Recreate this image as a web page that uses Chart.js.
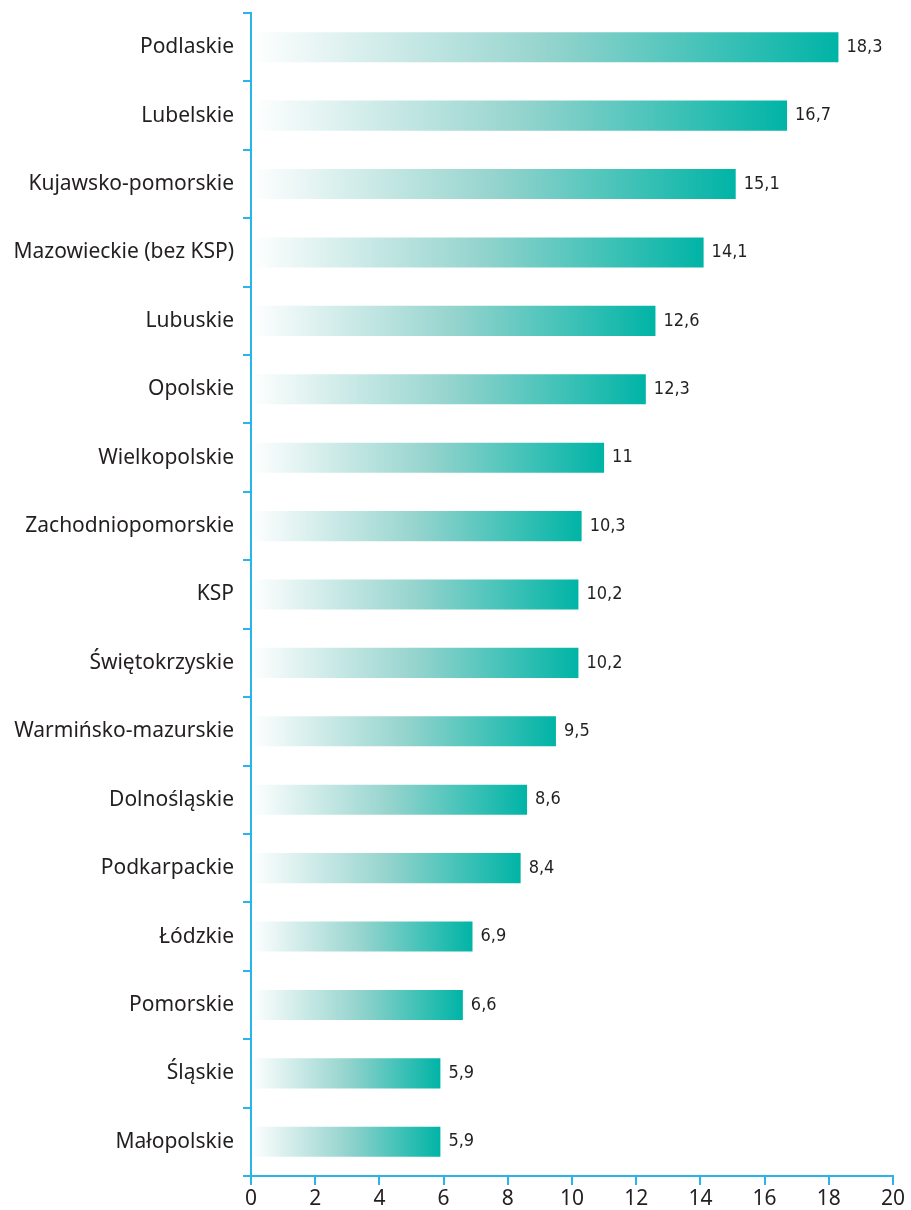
<!DOCTYPE html>
<html>
<head>
<meta charset="utf-8">
<script src="https://cdn.jsdelivr.net/npm/chart.js@4/dist/chart.umd.min.js"></script>
<style>
  html, body { margin: 0; padding: 0; background: #fff; }
  #wrap { width: 911px; height: 1210px; position: relative; }
</style>
</head>
<body>
<div id="wrap"><canvas id="barChart"></canvas></div>
<script>
// Data
const regions = [
    "Podlaskie", "Lubelskie", "Kujawsko-pomorskie", "Mazowieckie (bez KSP)",
    "Lubuskie", "Opolskie", "Wielkopolskie", "Zachodniopomorskie", "KSP",
    "Świętokrzyskie", "Warmińsko-mazurskie", "Dolnośląskie", "Podkarpackie",
    "Łódzkie", "Pomorskie", "Śląskie", "Małopolskie"
];
const values = [18.3, 16.7, 15.1, 14.1, 12.6, 12.3, 11, 10.3, 10.2, 10.2, 9.5, 8.6, 8.4, 6.9, 6.6, 5.9, 5.9];
const xTicks = [0, 2, 4, 6, 8, 10, 12, 14, 16, 18, 20];

const axisColor = "#29b5e8";
const textColor = "#231f20";
const teal = "rgb(0,180,166)";

// gradient from the axis to the end of each bar
function barFill(context) {
    const chart = context.chart;
    const x = chart.scales.x;
    if (!chart.chartArea || !x) return teal;
    const x0 = x.getPixelForValue(0);
    const x1 = x.getPixelForValue(context.raw);
    const g = chart.ctx.createLinearGradient(x0, 0, x1, 0);
    g.addColorStop(0, "rgba(255,255,255,1)");
    g.addColorStop(0.5, "rgb(150,212,206)");
    g.addColorStop(1, teal);
    return g;
}

// value labels at the bar ends, with decimal comma
const valueLabels = {
    id: "valueLabels",
    afterDatasetsDraw(chart) {
        const ctx = chart.ctx;
        const meta = chart.getDatasetMeta(0);
        ctx.save();
        ctx.font = '18px "Liberation Sans Narrow", "DejaVu Sans Condensed", sans-serif';
        ctx.fillStyle = textColor;
        ctx.textAlign = "left";
        ctx.textBaseline = "middle";
        meta.data.forEach((bar, i) => {
            ctx.fillText(String(values[i]).replace(".", ","), bar.x + 8, bar.y);
        });
        ctx.restore();
    }
};

const ctx = document.getElementById("barChart").getContext("2d");

const chart = new Chart(ctx, {
    type: "bar",
    data: {
        labels: regions,
        datasets: [{
            data: values,
            backgroundColor: barFill,
            borderWidth: 0,
            categoryPercentage: 1,
            barPercentage: 0.44
        }]
    },
    options: {
        indexAxis: "y",
        responsive: true,
        maintainAspectRatio: false,
        animation: false,
        layout: { padding: { top: 13, right: 18, left: 0, bottom: 0 } },
        plugins: {
            legend: { display: false },
            tooltip: { enabled: false }
        },
        scales: {
            x: {
                min: 0,
                max: 20,
                afterBuildTicks: scale => { scale.ticks = xTicks.map(v => ({ value: v })); },
                afterFit: scale => { scale.height = 34; },
                border: { display: true, color: axisColor, width: 2 },
                grid: { drawOnChartArea: false, color: axisColor, lineWidth: 2, tickLength: 9 },
                ticks: {
                    color: textColor,
                    padding: 1,
                    font: { family: '"Noto Sans", sans-serif', size: 21 }
                }
            },
            y: {
                afterFit: scale => {
                    scale.width = 251;
                    scale.paddingTop = 0;
                    scale.paddingBottom = 0;
                },
                border: { display: true, color: axisColor, width: 2 },
                grid: { drawOnChartArea: false, color: axisColor, lineWidth: 2, tickLength: 8, offset: true },
                ticks: {
                    color: textColor,
                    padding: 9,
                    font: { family: '"Noto Sans", sans-serif', size: 21 }
                }
            }
        }
    },
    plugins: [valueLabels]
});
</script>
</body>
</html>
